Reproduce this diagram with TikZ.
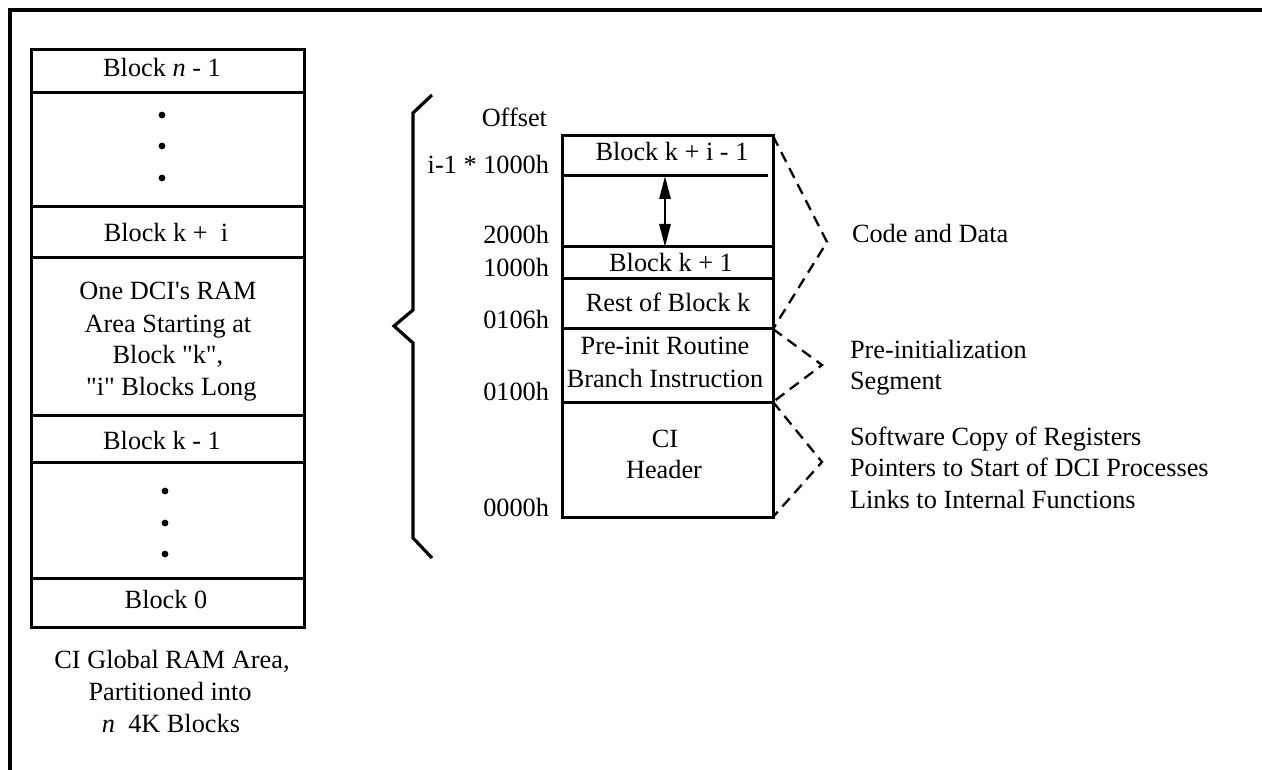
\documentclass[tikz,border=0pt]{standalone}
\usepackage{fontspec}
\setmainfont{Liberation Serif}[Ligatures=TeXOff]
\usetikzlibrary{arrows.meta}
\begin{document}
\begin{tikzpicture}[x=1pt,y=-1pt,
  every node/.style={inner sep=0pt,outer sep=0pt},
  txt/.style={anchor=base,font=\fontsize{26.3}{31.6}\selectfont},
  offs/.style={txt,anchor=base east},
  note/.style={txt,anchor=base west},
  box/.style={line width=3pt},
  outerframe/.style={line width=3.2pt},
  bracepath/.style={line width=3.2pt},
  seg/.style={line width=2.3pt,dash pattern=on 11pt off 7pt},
  blob/.style={circle,fill=black,minimum size=6.8pt},
  span/.style={line width=2.8pt,{Triangle[length=23pt,width=11pt]}-{Triangle[length=23pt,width=11pt]}}]

\useasboundingbox (0,0) rectangle (1262,770);

% outer frame
\draw[outerframe] (10,770) -- (10,10) -- (1262,10);

% ---- global RAM column ----
\draw[box] (31,50) rectangle (304,627);
\foreach \y in {93,207,258,415,462,578} \draw[box] (31,\y) -- (304,\y);

\node[txt] (bn1) at (162,77) {Block \textit{n} - 1};
\node[blob] (d1) at (162,115) {};
\node[blob] (d2) at (162,146) {};
\node[blob] (d3) at (162,178) {};
\node[txt] (bki) at (166,242) {Block k +\ \ i};
\node[txt] (dci1) at (168,300) {One DCI's RAM};
\node[txt] (dci2) at (168,332) {Area Starting at};
\node[txt] (dci3) at (168,363) {Block "k",};
\node[txt] (dci4) at (168,395) {\ "i" Blocks Long};
\node[txt] (bkm1) at (162,449) {Block k - 1};
\node[blob] (d4) at (165,491) {};
\node[blob] (d5) at (165,523) {};
\node[blob] (d6) at (165,554) {};
\node[txt] (b0) at (166,608) {Block 0};

\node[txt] (cap1) at (172,668) {CI Global RAM Area,};
\node[txt] (cap2) at (170,700) {Partitioned into};
\node[txt] (cap3) at (171,732) {\textit{n}\ \ 4K Blocks};

% ---- brace ----
\draw[bracepath] (432,95) -- (413,113) -- (413,310) -- (394,326)
  -- (413,343) -- (413,538) -- (432,558);

% ---- one DCI's RAM area ----
\draw[box] (562,136) rectangle (773,517);
\foreach \y in {247,279,329,402} \draw[box] (562,\y) -- (773,\y);
\draw[box] (562,176) -- (768,176);

\coordinate (gapTop) at (665,176);
\coordinate (gapBot) at (665,247);
\draw[span] (gapTop) -- (gapBot);

\node[txt] (r1) at (672,161) {Block k + i - 1};
\node[txt] (r3) at (671,272) {Block k + 1};
\node[txt] (r4) at (668,312) {Rest of Block k};
\node[txt] (r5a) at (665,355) {Pre-init Routine};
\node[txt] (r5b) at (665,387) {Branch Instruction};
\node[txt] (r6a) at (665,447) {CI};
\node[txt] (r6b) at (664,478) {Header};

% offsets
\node[offs] (o0) at (547,127) {Offset};
\node[offs] (o1) at (549,174) {i-1 * 1000h};
\node[offs] (o2) at (549,244) {2000h};
\node[offs] (o3) at (549,277) {1000h};
\node[offs] (o4) at (549,328) {0106h};
\node[offs] (o5) at (549,400) {0100h};
\node[offs] (o6) at (549,516) {0000h};

% ---- segment brackets ----
\coordinate (cTop) at (773,136);
\coordinate (cTip) at (827,242);
\coordinate (cBot) at (773,329);
\coordinate (pTip) at (822,365);
\coordinate (pBot) at (773,402);
\coordinate (hTip) at (822,462);
\coordinate (hBot) at (773,517);
\draw[seg] (cTop) -- (cTip) -- (cBot);
\draw[seg] (cBot) -- (pTip) -- (pBot);
\draw[seg] (pBot) -- (hTip) -- (hBot);

\node[note] (n1) at (852,243) {Code and Data};
\node[note] (n2) at (850,358) {Pre-initialization};
\node[note] (n3) at (850,389) {Segment};
\node[note] (n4) at (850,445) {Software Copy of Registers};
\node[note] (n5) at (850,476) {Pointers to Start of DCI Processes};
\node[note] (n6) at (850,508) {Links to Internal Functions};
\end{tikzpicture}
\end{document}
